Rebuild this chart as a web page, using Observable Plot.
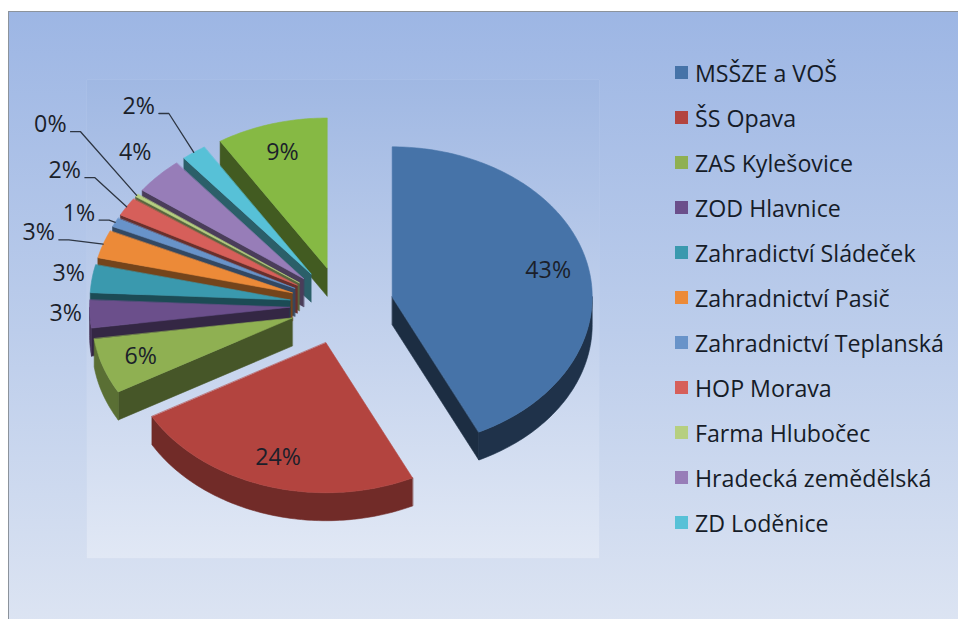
<!DOCTYPE html>
<html><head><meta charset="utf-8">
<script src="https://cdn.jsdelivr.net/npm/d3@7"></script>
<script src="https://cdn.jsdelivr.net/npm/@observablehq/plot@0.6"></script>
<style>
html,body{margin:0;padding:0;background:#fff;}
body{width:958px;height:619px;overflow:hidden;position:relative;font-family:"Open Sans",sans-serif;}
#frame{position:absolute;left:8px;top:11px;width:980px;height:640px;border:1px solid #8c939c;box-sizing:border-box;
  background:linear-gradient(to bottom,#9db6e4 0%,#bccdeb 50%,#dfe6f3 100%);}
#plotarea{position:absolute;left:87px;top:80px;width:512px;height:478px;
  background:linear-gradient(to bottom,#a0b8e3,#e1e8f5);box-shadow:0 0 1px rgba(255,255,255,.3);}
#chart{position:absolute;left:0;top:0;}
#legend{position:absolute;left:675px;top:50px;width:283px;}
.lg-swatches{font-family:"Open Sans",sans-serif;font-size:23.2px;color:#161c28;margin:0;}
.lg-swatch{height:45px;padding:0;}
.lg-swatch > svg{margin-right:7px;}
</style></head>
<body>
<div id="frame"></div>
<div id="plotarea"></div>
<div id="chart"></div>
<div id="legend"></div>
<script>
// ---- data ----
const categories = ["MSŠZE a VOŠ","ŠS Opava","ZAS Kylešovice","ZOD Hlavnice","Zahradictví Sládeček","Zahradnictví Pasič","Zahradnictví Teplanská","HOP Morava","Farma Hlubočec","Hradecká zemědělská","ZD Loděnice","(bez legendy)"];
const values = [43, 24, 6, 3, 3, 3, 1, 2, 0.3, 4, 2, 9];
const inLegend = [true,true,true,true,true,true,true,true,true,true,true,false];
const colors = ["#4673a8","#b3443f","#8fb052","#6b4f8b","#3a99ae","#ec8a38","#6893c9","#d65f5a","#b6cf80","#977db8","#57c1d7","#86b944"];

// ---- layout ----
const W = 640, H = 619;
const cx = 341, cy = 305, rx = 200, ry = 150;
const explode = 0.26, depth = 28 / ry;
const labelRadius = [null,null,null,1.38,1.38,1.59,1.45,1.65,1.89,1.45,1.67,null];
const labelNudge  = [0,0,0,0.4,0.7,-1.2,-1,1.5,4,1.3,-1.5,0]; // degrees
const hasLeader = [false,false,false,false,false,true,true,true,true,false,true,false];
const insideR = 0.8;
const fontSize = 23.2;

const total = d3.sum(values);
const arcs = d3.pie().sort(null).value(d => d)(values);
const step = Math.PI / 180;
function arcPts(ax, ay, t0, t1, dv = 0) {
  const n = Math.max(2, Math.ceil((t1 - t0) / step));
  const pts = [];
  for (let k = 0; k <= n; k++) { const t = t0 + (t1 - t0) * k / n; pts.push([ax + Math.sin(t), ay + Math.cos(t) + dv]); }
  return pts;
}
const polys = [];
let pid = 0;
function addPoly(pts, fill) { pid++; for (const [u, v] of pts) polys.push({id: pid, u, v, fill}); }

const order = d3.range(values.length).sort((a, b) => {
  const ma = (arcs[a].startAngle + arcs[a].endAngle) / 2, mb = (arcs[b].startAngle + arcs[b].endAngle) / 2;
  return Math.cos(mb) - Math.cos(ma);
});
const geom = arcs.map(a => {
  const mid = (a.startAngle + a.endAngle) / 2;
  return {a0: a.startAngle, a1: a.endAngle, mid, ax: explode * Math.sin(mid), ay: explode * Math.cos(mid)};
});
for (const i of order) {
  const {a0, a1, ax, ay} = geom[i];
  const c = colors[i];
  if (Math.sin(a0) < -1e-6) {
    const e = [ax + Math.sin(a0), ay + Math.cos(a0)];
    addPoly([[ax, ay], e, [e[0], e[1] - depth], [ax, ay - depth]], d3.color(c).darker(2.0).formatHex());
  }
  if (Math.sin(a1) > 1e-6) {
    const e = [ax + Math.sin(a1), ay + Math.cos(a1)];
    addPoly([[ax, ay], e, [e[0], e[1] - depth], [ax, ay - depth]], d3.color(c).darker(2.6).formatHex());
  }
  const t0 = Math.max(a0, Math.PI / 2), t1 = Math.min(a1, 3 * Math.PI / 2);
  if (t1 > t0) {
    const k = 1.3 + 1.2 * Math.max(0, Math.sin((t0 + t1) / 2));
    const outerC = d3.color(c).darker(k).formatHex();
    const top = arcPts(ax, ay, t0, t1), bot = arcPts(ax, ay, t0, t1, -depth).reverse();
    addPoly(top.concat(bot), outerC);
  }
  addPoly([[ax, ay]].concat(arcPts(ax, ay, a0, a1)), c);
}

// labels
const ctx = document.createElement("canvas").getContext("2d");
ctx.font = `${fontSize}px "Open Sans"`;
const labels = [], leaders = [];
geom.forEach((g, i) => {
  const text = Math.round(100 * values[i] / total) + "%";
  let u, v;
  if (labelRadius[i] == null) {
    u = g.ax + insideR * Math.sin(g.mid); v = g.ay + insideR * Math.cos(g.mid);
  } else {
    const t = g.mid + labelNudge[i] * Math.PI / 180;
    u = labelRadius[i] * Math.sin(t); v = labelRadius[i] * Math.cos(t);
  }
  labels.push({u, v, text});
  if (hasLeader[i]) {
    const hw = ctx.measureText(text).width / 2;
    const sx = u + (hw + 4) / rx, sy = v - 7 / ry;
    leaders.push({id: i, u: sx, v: sy});
    leaders.push({id: i, u: sx + 10 / rx, v: sy});
    leaders.push({id: i, u: g.ax + Math.sin(g.mid), v: g.ay + Math.cos(g.mid)});
  }
});

const chart = Plot.plot({
  width: W, height: H, margin: 0,
  x: {domain: [-cx / rx, (W - cx) / rx], axis: null},
  y: {domain: [(cy - H) / ry, cy / ry], axis: null},
  color: {type: "identity"},
  style: {background: "transparent", overflow: "visible"},
  marks: [
    Plot.line(polys, {x: "u", y: "v", z: "id", fill: "fill", stroke: "fill", strokeWidth: 0.6, curve: "linear-closed"}),
    Plot.line(leaders, {x: "u", y: "v", z: "id", stroke: "#2e3643", strokeWidth: 1.3, curve: "linear"}),
    Plot.text(labels, {x: "u", y: "v", text: "text", fontSize, fontFamily: "Open Sans", fill: "#1b1f2a"})
  ]
});
document.getElementById("chart").append(chart);

const legendNames = categories.filter((d, i) => inLegend[i]);
const legendColors = colors.filter((d, i) => inLegend[i]);
const legend = Plot.legend({
  color: {type: "ordinal", domain: legendNames, range: legendColors},
  legend: "swatches", columns: 1, swatchSize: 13, className: "lg"
});
document.getElementById("legend").append(legend);
</script>
</body></html>
